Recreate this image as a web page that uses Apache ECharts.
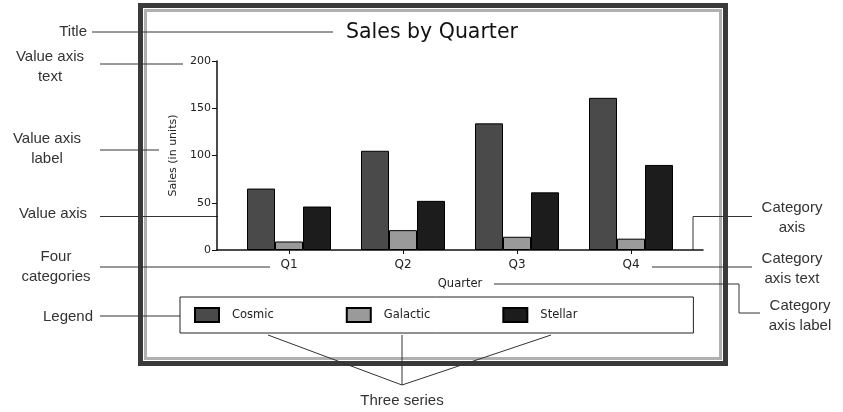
<!DOCTYPE html>
<html>
<head>
<meta charset="utf-8">
<script src="https://cdn.jsdelivr.net/npm/echarts@6/dist/echarts.min.js"></script>
<style>
  html, body { margin: 0; padding: 0; background: #fff; }
  #chart { width: 843px; height: 412px; }
</style>
</head>
<body>
<div id="chart"></div>
<script>
// chart data
var quarters = ['Q1', 'Q2', 'Q3', 'Q4']
var cosmic = [65, 105, 134, 161]
var galactic = [9, 21, 14, 12]
var stellar = [46, 52, 61, 90]
var seriesNames = ['Cosmic', 'Galactic', 'Stellar']
var seriesColors = ['#4a4a4a', '#9a9a9a', '#1c1c1c']

var chartFont = '"DejaVu Sans", Verdana, sans-serif'
var noteFont = '"Liberation Sans", Arial, sans-serif'

// callout text + leader lines drawn round the chart
function note(text, x, y, align) {
  return {
    type: 'text',
    x: x,
    y: y,
    style: {
      text: text,
      font: '15px ' + noteFont,
      fill: '#333',
      align: align || 'center',
      verticalAlign: 'middle',
      lineHeight: 20
    }
  }
}
function leader(points) {
  return {
    type: 'polyline',
    shape: { points: points },
    style: { stroke: '#333', lineWidth: 1, fill: null }
  }
}

var chart = echarts.init(document.getElementById('chart'))

chart.setOption({
  animation: false,
  backgroundColor: '#fff',
  textStyle: { fontFamily: chartFont },
  title: {
    text: 'Sales by Quarter',
    left: 346,
    top: 22,
    padding: 0,
    textStyle: { fontFamily: chartFont, fontSize: 20.5, fontWeight: 'normal', color: '#111' }
  },
  legend: {
    data: seriesNames,
    left: 180,
    top: 297,
    padding: [10, 116, 10, 14],
    borderColor: '#222',
    borderWidth: 1,
    itemWidth: 24,
    itemHeight: 14,
    itemGap: 72,
    icon: 'rect',
    textStyle: {
      padding: [0, 0, 0, 8],
      fontFamily: chartFont,
      fontSize: 11.5,
      color: '#222'
    }
  },
  grid: [
    { left: 217, right: 140, top: 61, bottom: 162 },
    { left: 232, right: 155, top: 61, bottom: 162 }
  ],
  xAxis: [
    {
      gridIndex: 0,
      type: 'category',
      data: quarters,
      axisLine: { lineStyle: { color: '#111', width: 1.5 } },
      axisTick: { show: false },
      axisLabel: { show: false },
      name: 'Quarter',
      nameLocation: 'middle',
      nameGap: 28,
      nameTextStyle: { fontFamily: chartFont, fontSize: 11.5, color: '#222' }
    },
    {
      gridIndex: 1,
      type: 'category',
      data: quarters,
      axisLine: { show: false },
      axisTick: { show: true, alignWithLabel: true, length: 4, lineStyle: { color: '#111' } },
      axisLabel: { margin: 9, fontFamily: chartFont, fontSize: 12, color: '#222' }
    }
  ],
  yAxis: [
    {
      gridIndex: 0,
      type: 'value',
      min: 0,
      max: 200,
      interval: 50,
      axisLine: { show: true, lineStyle: { color: '#111', width: 1.5 } },
      axisTick: { show: true, length: 5, lineStyle: { color: '#111' } },
      axisLabel: { margin: 6, fontFamily: chartFont, fontSize: 11, color: '#222' },
      splitLine: { show: false },
      name: 'Sales (in units)',
      nameLocation: 'middle',
      nameGap: 36,
      nameTextStyle: { fontFamily: chartFont, fontSize: 11, color: '#222' }
    },
    {
      gridIndex: 1,
      type: 'value',
      min: 0,
      max: 200,
      show: false
    }
  ],
  series: [cosmic, galactic, stellar].map(function (vals, i) {
    return {
      name: seriesNames[i],
      type: 'bar',
      xAxisIndex: 1,
      yAxisIndex: 1,
      data: vals,
      barWidth: 28,
      barGap: '0%',
      itemStyle: { color: seriesColors[i], borderColor: '#000', borderWidth: 1 }
    }
  }),
  graphic: [
    // window frame
    {
      type: 'rect',
      shape: { x: 140.5, y: 5.5, width: 585, height: 358 },
      style: { fill: null, stroke: '#3a3a3a', lineWidth: 5 },
      z: 0
    },
    {
      type: 'rect',
      shape: { x: 145.5, y: 10.5, width: 575, height: 348 },
      style: { fill: null, stroke: '#b0b0b0', lineWidth: 3 },
      z: 0
    },
    note('Title', 87, 32, 'right'),
    leader([[92, 32], [333, 32]]),
    note('Value axis\ntext', 50, 67),
    leader([[100, 64], [183, 64]]),
    note('Value axis\nlabel', 47, 149),
    leader([[100, 150], [159, 150]]),
    note('Value axis', 53, 214),
    leader([[100, 216.5], [218, 216.5]]),
    note('Four\ncategories', 56, 267),
    leader([[100, 267], [270, 267]]),
    note('Legend', 93, 317, 'right'),
    leader([[100, 316], [180, 316]]),
    note('Category\naxis', 792, 218),
    leader([[693, 250], [693, 216.5], [752, 216.5]]),
    note('Category\naxis text', 792, 269),
    leader([[652, 267], [752, 267]]),
    note('Category\naxis label', 800, 316),
    leader([[494, 284], [739, 284], [739, 313], [760, 313]]),
    note('Three series', 402, 401),
    leader([[268, 335], [402, 385], [551, 335]]),
    leader([[402, 335], [402, 385]])
  ]
})
</script>
</body>
</html>
